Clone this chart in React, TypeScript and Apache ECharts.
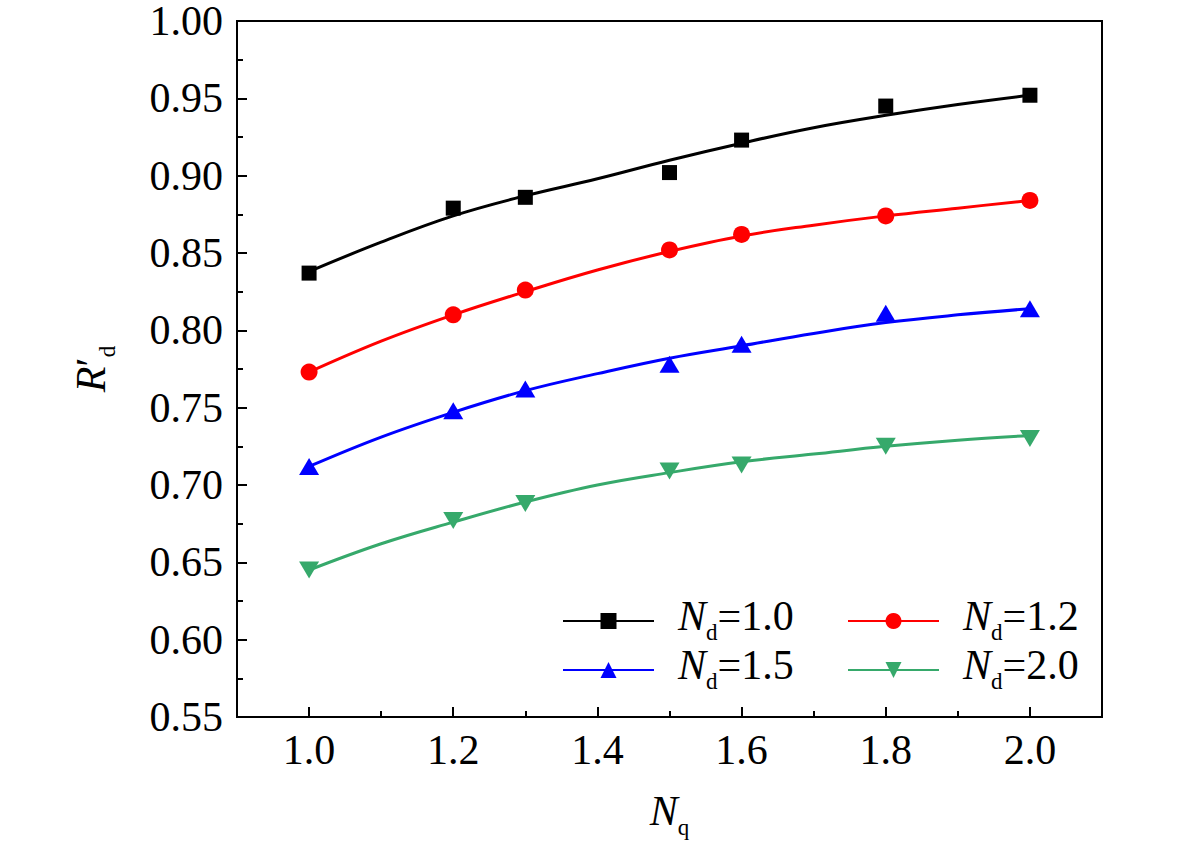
import React, { useEffect, useRef } from "react";
import * as echarts from "echarts";

// Measured points
const nq = [1.0, 1.2, 1.3, 1.5, 1.6, 1.8, 2.0];
const nd10 = [0.837, 0.879, 0.886, 0.902, 0.923, 0.945, 0.952];
const nd12 = [0.773, 0.810, 0.826, 0.852, 0.862, 0.874, 0.884];
const nd15 = [0.712, 0.748, 0.762, 0.778, 0.791, 0.811, 0.814];
const nd20 = [0.645, 0.677, 0.688, 0.709, 0.713, 0.725, 0.730];

// Fitted curves
const fitX = [1.0, 1.1, 1.2, 1.3, 1.4, 1.5, 1.6, 1.7, 1.8, 1.9, 2.0];
const fit10 = [0.838, 0.857, 0.874, 0.887, 0.898, 0.910, 0.921, 0.931, 0.939, 0.946, 0.952];
const fit12 = [0.773, 0.793, 0.810, 0.825, 0.839, 0.851, 0.861, 0.868, 0.874, 0.879, 0.884];
const fit15 = [0.712, 0.731, 0.747, 0.761, 0.772, 0.782, 0.790, 0.798, 0.805, 0.810, 0.814];
const fit20 = [0.645, 0.662, 0.676, 0.689, 0.700, 0.708, 0.715, 0.720, 0.725, 0.729, 0.732];

const xMajorTicks = [1.0, 1.2, 1.4, 1.6, 1.8, 2.0];
const xMinorTicks = [1.1, 1.3, 1.5, 1.7, 1.9];
const seriesNames = ["1.0", "1.2", "1.5", "2.0"];

const FONT = "'Liberation Serif', 'Times New Roman', serif";
const colors = ["#000000", "#ff0000", "#0000ff", "#36a96b"];
const symbols = ["rect", "circle", "triangle", "path://M0,0L10,0L5,10Z"];
const symbolSizes: any[] = [15, 17, [20, 17], [20, 17]];

const mainTok = (italic: boolean, padLeft = 0) => ({
  fontFamily: FONT,
  fontStyle: italic ? "italic" : "normal",
  fontSize: 42,
  color: "#000",
  lineHeight: 46,
  verticalAlign: "bottom",
  padding: [0, 0, 7, padLeft],
});
const subTok = {
  fontFamily: FONT,
  fontSize: 23,
  color: "#000",
  lineHeight: 14,
  verticalAlign: "bottom",
};

export default function App() {
  const ref = useRef<HTMLDivElement>(null);
  useEffect(() => {
    if (!ref.current) return;
    const chart = echarts.init(ref.current, null, { renderer: "svg" });
    const pts = [nd10, nd12, nd15, nd20];
    const fits = [fit10, fit12, fit15, fit20];
    const series: any[] = [];
    seriesNames.forEach((name, k) => {
      series.push({
        name,
        type: "line",
        data: fitX.map((x, i) => [x, fits[k][i]]),
        smooth: 0.4,
        symbol: symbols[k],
        symbolSize: symbolSizes[k],
        showSymbol: false,
        lineStyle: { color: colors[k], width: 3 },
        itemStyle: { color: colors[k] },
        z: 2,
      });
    });
    seriesNames.forEach((name, k) => {
      series.push({
        name,
        type: "scatter",
        data: nq.map((x, i) => [x, pts[k][i]]),
        symbol: symbols[k],
        symbolSize: symbolSizes[k],
        itemStyle: { color: colors[k], opacity: 1 },
        z: 3,
      });
    });

    const legendRich = {
      i: mainTok(true, 19),
      s: subTok,
      n: mainTok(false),
    };
    const legendPos = [
      { left: 562, top: 595 },
      { left: 847, top: 595 },
      { left: 562, top: 644 },
      { left: 847, top: 644 },
    ];
    const legends = seriesNames.map((name, k) => ({
      data: [name],
      left: legendPos[k].left,
      top: legendPos[k].top,
      padding: 0,
      itemWidth: 91,
      itemHeight: 20,
      formatter: (n: string) => `{i|N}{s|d}{n|=${n}}`,
      textStyle: { rich: legendRich },
      selectedMode: false,
    }));

    chart.setOption({
      animation: false,
      backgroundColor: "#fff",
      grid: {
        left: 237,
        right: 79,
        top: 21,
        bottom: 134,
        show: true,
        borderColor: "#000",
        borderWidth: 2,
        outerBoundsMode: "none",
        containLabel: false,
      },
      legend: legends,
      xAxis: [
        {
          type: "value",
          min: 0.9,
          max: 2.1,
          interval: 0.1,
          position: "bottom",
          axisLine: { show: true, lineStyle: { color: "#000", width: 2 } },
          axisTick: { show: true, inside: true, length: 10, lineStyle: { width: 2, color: "#000" }, customValues: xMajorTicks },
          axisLabel: {
            customValues: xMajorTicks,
            formatter: (v: number) => v.toFixed(1),
            fontFamily: FONT,
            fontSize: 42,
            color: "#000",
            margin: 12,
          },
          splitLine: { show: false },
          name: "{i|N}{s|q}",
          nameLocation: "middle",
          nameGap: 76,
          nameTextStyle: {
            rich: { i: mainTok(true), s: subTok },
          },
        },
        {
          type: "value",
          min: 0.9,
          max: 2.1,
          interval: 0.1,
          position: "bottom",
          axisLine: { show: false },
          axisTick: { show: true, inside: true, length: 6, lineStyle: { width: 2, color: "#000" }, customValues: xMinorTicks },
          axisLabel: { show: false },
          splitLine: { show: false },
        },
      ],
      yAxis: {
        type: "value",
        min: 0.55,
        max: 1.0,
        interval: 0.05,
        axisLine: { show: true, lineStyle: { color: "#000", width: 2 } },
        axisTick: { show: true, inside: true, length: 10, lineStyle: { width: 2, color: "#000" } },
        minorTick: { show: true, splitNumber: 2, length: 6, lineStyle: { width: 2, color: "#000" } },
        axisLabel: {
          formatter: (v: number) => v.toFixed(2),
          fontFamily: FONT,
          fontSize: 42,
          lineHeight: 32,
          color: "#000",
          margin: 14,
        },
        splitLine: { show: false },
        name: "{i|R}{p|′}{s|d}",
        nameLocation: "middle",
        nameGap: 118,
        nameRotate: 90,
        nameTextStyle: {
          rich: { i: mainTok(true), p: mainTok(false), s: subTok },
        },
      },
      series,
    });
    return () => chart.dispose();
  }, []);
  return (
    <div
      ref={ref}
      style={{ position: "absolute", left: 0, top: 0, width: 1181, height: 851, background: "#fff" }}
    />
  );
}
